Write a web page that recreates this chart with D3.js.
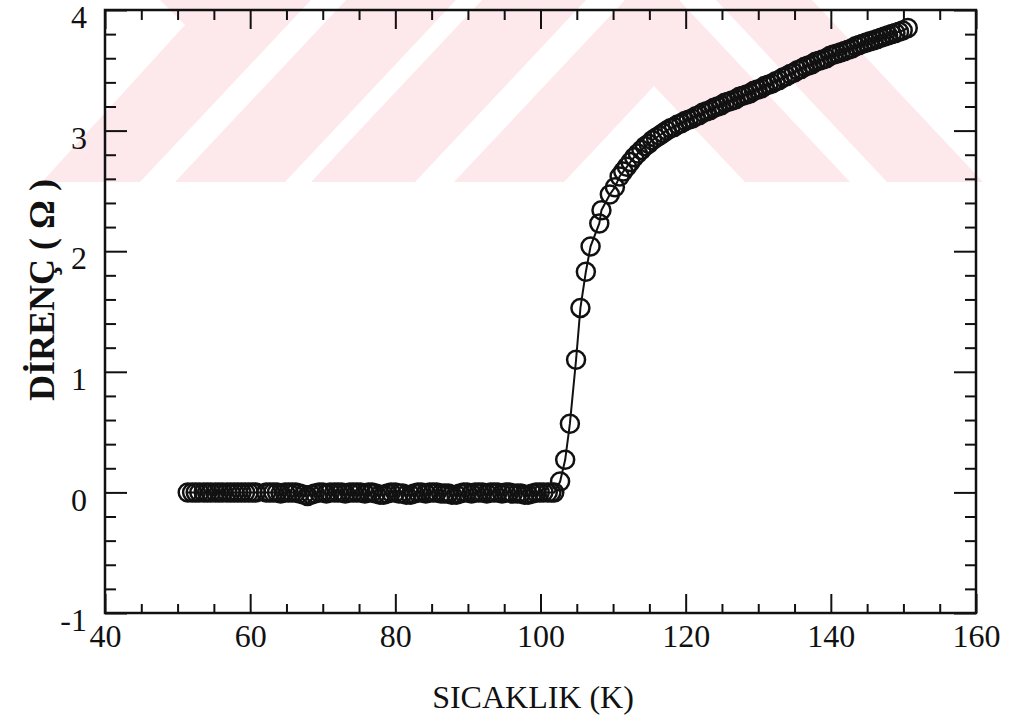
<!DOCTYPE html>
<html>
<head>
<meta charset="utf-8">
<script src="https://cdn.jsdelivr.net/npm/d3@7/dist/d3.min.js"></script>
<style>
  body { margin: 0; background: #fff; }
</style>
</head>
<body>
<div id="chart"></div>
<script>
// flat (superconducting) part, T in K, R in ohm
var flatTemp = [51.4, 52.0, 52.5, 53.0, 53.6, 54.1, 54.6, 55.2, 55.7, 56.2, 56.8, 57.3, 57.8, 58.3, 58.8, 59.3, 59.8, 60.3, 60.8,
  62.2, 62.7, 63.2, 63.7, 64.2, 64.8, 65.3, 65.8, 66.3, 66.8, 67.4, 67.9, 68.4, 68.9, 69.5, 70.0, 70.5, 71.0, 71.6, 72.1, 72.6,
  73.1, 73.7, 74.2, 74.7, 75.2, 75.8, 76.3, 76.8, 77.3, 77.9, 78.4, 78.9, 79.4, 80.0, 80.5, 81.0, 81.5, 82.1, 82.6, 83.1,
  83.6, 84.2, 84.7, 85.2, 85.7, 86.3, 86.8, 87.3, 87.8, 88.4, 88.9, 89.4, 89.9, 90.5, 91.0, 91.5, 92.0, 92.6, 93.1, 93.6,
  94.1, 94.7, 95.2, 95.7, 96.2, 96.8, 97.3, 97.8, 98.3, 98.9, 99.4, 99.9, 100.4, 101.0, 101.5, 101.9];
var flatRes = [0.00, 0.00, 0.00, 0.00, 0.00, 0.00, 0.00, 0.00, 0.00, 0.00, 0.00, 0.00, 0.00, 0.00, 0.00, 0.00, 0.00, 0.00, 0.00,
  0.00, 0.00, 0.00, 0.00, -0.01, 0.00, 0.00, 0.00, 0.00, -0.01, -0.02, -0.03, -0.02, -0.01, 0.00, 0.00, -0.01, 0.00, 0.00, 0.00, 0.00,
  -0.01, 0.00, 0.00, 0.00, 0.00, -0.01, 0.00, 0.00, -0.01, -0.02, -0.02, -0.01, 0.00, 0.00, -0.01, -0.01, -0.02, -0.02, -0.01, 0.00,
  0.00, -0.01, 0.00, 0.00, 0.00, -0.01, -0.01, -0.01, -0.02, -0.02, -0.01, 0.00, 0.00, -0.01, 0.00, 0.00, 0.00, -0.01, 0.00, 0.00,
  0.00, -0.01, 0.00, 0.00, -0.01, -0.01, -0.01, -0.02, -0.02, -0.01, 0.00, 0.00, 0.00, 0.00, 0.00, 0.00];

// transition
var riseTemp = [102.7, 103.4, 104.05, 104.9, 105.5, 106.25, 106.9, 108.1, 108.4, 109.55, 110.25, 110.9];
var riseRes  = [0.09, 0.27, 0.57, 1.10, 1.53, 1.83, 2.04, 2.23, 2.34, 2.47, 2.53, 2.62];

// normal state
var upperTemp = [111.4, 111.9, 112.4, 112.9, 113.4, 113.9, 114.4, 114.9, 115.4, 115.9, 116.4, 116.9, 117.4, 117.9, 118.4,
  118.9, 119.4, 119.9, 120.4, 120.9, 121.4, 121.9, 122.4, 122.9, 123.4, 123.9, 124.4, 124.9, 125.4, 125.9, 126.4, 126.9,
  127.4, 127.9, 128.4, 128.9, 129.4, 129.9, 130.4, 130.9, 131.4, 131.9, 132.4, 132.9, 133.4, 133.9, 134.4, 134.9, 135.4,
  135.9, 136.4, 136.9, 137.4, 137.9, 138.4, 138.9, 139.4, 139.9, 140.4, 140.9, 141.4, 141.9, 142.4, 142.9, 143.4, 143.9,
  144.4, 144.9, 145.4, 145.9, 146.4, 146.9, 147.4, 147.9, 148.4, 148.9, 149.4, 149.9, 150.6];
var upperRes = [2.66, 2.70, 2.74, 2.78, 2.81, 2.84, 2.87, 2.89, 2.92, 2.94, 2.96, 2.98, 3.00, 3.02, 3.03,
  3.05, 3.06, 3.08, 3.09, 3.10, 3.12, 3.13, 3.15, 3.16, 3.17, 3.19, 3.20, 3.21, 3.23, 3.24, 3.25, 3.26,
  3.28, 3.29, 3.30, 3.31, 3.33, 3.34, 3.35, 3.37, 3.38, 3.39, 3.41, 3.42, 3.44, 3.45, 3.47, 3.48, 3.50,
  3.51, 3.53, 3.54, 3.55, 3.57, 3.58, 3.59, 3.60, 3.62, 3.63, 3.64, 3.65, 3.66, 3.67, 3.68, 3.70, 3.71,
  3.72, 3.73, 3.74, 3.75, 3.76, 3.77, 3.78, 3.79, 3.80, 3.81, 3.82, 3.83, 3.85];

var xTicks = [40, 60, 80, 100, 120, 140, 160];
var yTicks = [-1, 0, 1, 2, 3, 4];
var xTitle = "SICAKLIK (K)";
var yTitle = "DİRENÇ ( Ω )";

// pink watermark shapes (page coords)
var watermark = [
  [[42,182],[140,182],[311,0],[160,0],[185,25]],
  [[175,182],[285,182],[456,0],[346,0]],
  [[311,182],[415,182],[586,0],[482,0]],
  [[454,182],[564,182],[654,86],[745,182],[850,182],[679,0],[625,0]],
  [[887,182],[983,182],[812,0],[716,0]]
];

var serif = '"Liberation Serif", "Times New Roman", serif';

var margin = {top: 10, right: 35, bottom: 111, left: 105},
    width = 1011 - margin.left - margin.right,
    height = 724 - margin.top - margin.bottom;

var svg0 = d3.select("#chart")
  .append("svg")
    .attr("width", 1011)
    .attr("height", 724);

svg0.append("g")
  .selectAll("polygon")
  .data(watermark)
  .enter()
  .append("polygon")
    .attr("points", function(d){ return d.map(function(p){ return p.join(","); }).join(" "); })
    .style("fill", "#fde8ec");

var svg = svg0.append("g")
    .attr("transform", "translate(" + margin.left + "," + margin.top + ")");

var xScale = d3.scaleLinear().domain([40, 160]).range([0, width]);
var yScale = d3.scaleLinear().domain([-1, 4]).range([height, 0]);

var xMinor = d3.range(40, 161, 5).filter(function(v){ return v % 20 != 0; });
var yMinor = d3.range(-10, 41, 2).map(function(v){ return v / 10; }).filter(function(v){ return !Number.isInteger(v); });

var fmt = function(d){ return String(d); };   // plain hyphen minus, like the original

function styleAxis(g) {
  g.select(".domain").remove();
  g.selectAll("line").attr("stroke", "#111").attr("stroke-width", 2);
  g.selectAll("text")
    .attr("fill", "#111")
    .style("font-family", serif)
    .style("font-size", "32px");
}

// bottom
svg.append("g")
  .attr("transform", "translate(0," + height + ")")
  .call(d3.axisBottom(xScale).tickValues(xTicks).tickSize(-19).tickPadding(11).tickFormat(fmt))
  .call(styleAxis);
svg.append("g")
  .attr("transform", "translate(0," + height + ")")
  .call(d3.axisBottom(xScale).tickValues(xMinor).tickSize(-9).tickFormat(""))
  .call(styleAxis);
// top
svg.append("g")
  .call(d3.axisTop(xScale).tickValues(xTicks).tickSize(-19).tickFormat(""))
  .call(styleAxis);
svg.append("g")
  .call(d3.axisTop(xScale).tickValues(xMinor).tickSize(-10).tickFormat(""))
  .call(styleAxis);
// left
svg.append("g")
  .call(d3.axisLeft(yScale).tickValues(yTicks).tickSize(-22).tickPadding(18).tickFormat(fmt))
  .call(styleAxis)
  .selectAll("text").attr("dy", "0.55em");
svg.append("g")
  .call(d3.axisLeft(yScale).tickValues(yMinor).tickSize(-11).tickFormat(""))
  .call(styleAxis);
// right
svg.append("g")
  .attr("transform", "translate(" + width + ",0)")
  .call(d3.axisRight(yScale).tickValues(yTicks).tickSize(-22).tickFormat(""))
  .call(styleAxis);
svg.append("g")
  .attr("transform", "translate(" + width + ",0)")
  .call(d3.axisRight(yScale).tickValues(yMinor).tickSize(-11).tickFormat(""))
  .call(styleAxis);

// frame
svg.append("rect")
  .attr("x", 0).attr("y", 0)
  .attr("width", width).attr("height", height)
  .style("fill", "none").style("stroke", "#111").style("stroke-width", 2.5);

// data
var data = [];
flatTemp.forEach(function(t, i){ data.push({t: t, r: flatRes[i]}); });
riseTemp.forEach(function(t, i){ data.push({t: t, r: riseRes[i]}); });
upperTemp.forEach(function(t, i){ data.push({t: t, r: upperRes[i]}); });

var line = d3.line()
  .x(function(d){ return xScale(d.t); })
  .y(function(d){ return yScale(d.r); });

svg.append("path")
  .datum(data)
  .attr("d", line)
  .style("fill", "none")
  .style("stroke", "#111")
  .style("stroke-width", 2);

svg.selectAll("dots")
  .data(data)
  .enter()
  .append("circle")
    .attr("cx", function(d){ return xScale(d.t); })
    .attr("cy", function(d){ return yScale(d.r); })
    .attr("r", 9)
    .style("fill", "none")
    .style("stroke", "#111")
    .style("stroke-width", 2.5);

// axis titles
svg0.append("text")
  .attr("x", 533)
  .attr("y", 708)
  .attr("text-anchor", "middle")
  .attr("fill", "#111")
  .style("font-family", serif)
  .style("font-size", "32px")
  .text(xTitle);

svg0.append("text")
  .attr("transform", "translate(54,290) rotate(-90)")
  .attr("text-anchor", "middle")
  .attr("fill", "#111")
  .style("font-family", serif)
  .style("font-weight", "bold")
  .style("font-size", "36px")
  .text(yTitle);
</script>
</body>
</html>
